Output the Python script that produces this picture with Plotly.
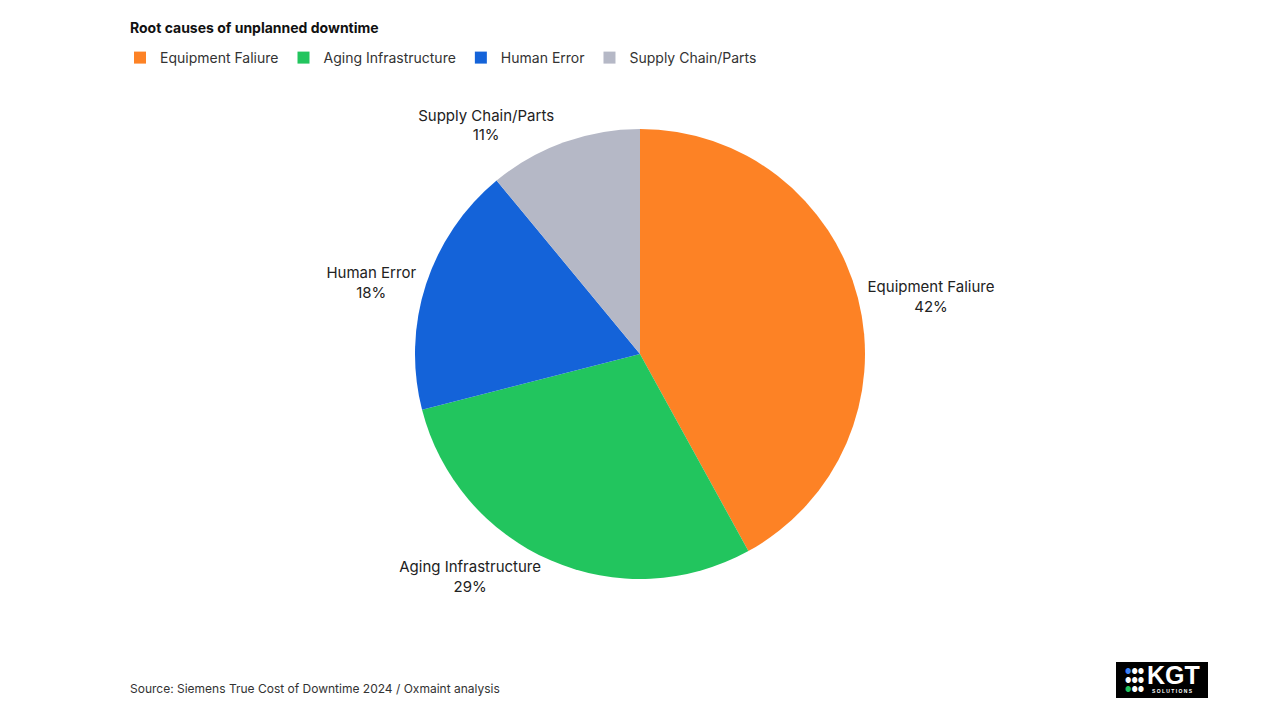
import plotly.graph_objects as go

# root causes, share of unplanned downtime (%)
CAUSES = ["Equipment Faliure", "Aging Infrastructure", "Human Error", "Supply Chain/Parts"]
SHARES = [42, 29, 18, 11]
COLORS = ["#fd8225", "#22c55e", "#1463d9", "#b5b8c6"]

INK = "#111111"
FONT = "Inter, Roboto, Arial, sans-serif"


def px(x, y):
    # pixel position (from top-left) -> paper fraction
    return x / 1280, 1 - y / 720


fig = go.Figure()
fig.add_pie(
    labels=CAUSES, values=SHARES, sort=False, direction="clockwise", rotation=0,
    marker=dict(colors=COLORS, line=dict(width=0)),
    texttemplate="%{label}<br>%{value}%", textposition="outside",
    textfont=dict(family=FONT, size=15, color="#222222"),
    domain=dict(x=[0.324, 0.676], y=[0.196, 0.821]),
    showlegend=True, hoverinfo="label+percent",
)

lx, ly = px(120, 58)
fig.update_layout(
    width=1280, height=720,
    paper_bgcolor="#ffffff", plot_bgcolor="#ffffff",
    margin=dict(l=0, r=0, t=0, b=0),
    font=dict(family=FONT, color=INK),
    legend=dict(orientation="h", x=lx, y=ly, xanchor="left", yanchor="middle",
                bgcolor="rgba(0,0,0,0)",
                font=dict(family=FONT, size=14, color="#333333"),
                itemsizing="constant", traceorder="normal"),
)

ann = []
x, y = px(128, 28)
ann.append(dict(text="<b>Root causes of unplanned downtime</b>", x=x, y=y,
                xanchor="left", yanchor="middle", font=dict(size=14, color=INK)))
x, y = px(128, 688)
ann.append(dict(text="Source: Siemens True Cost of Downtime 2024 / Oxmaint analysis", x=x, y=y,
                xanchor="left", yanchor="middle", font=dict(size=12, color="#333333")))
# KGT logo badge
x, y = px(1145, 675)
ann.append(dict(text="<b>KGT</b>", x=x, y=y, xanchor="left", yanchor="middle",
                font=dict(size=25, color="#ffffff", family="Arial")))
x, y = px(1150, 691)
ann.append(dict(text="<b>S O L U T I O N S</b>", x=x, y=y, xanchor="left", yanchor="middle",
                font=dict(size=5, color="#ffffff", family="Arial")))
x, y = px(1134, 680)
ann.append(dict(text="<span style='color:#3b82f6'>●</span>●●<br>●●●<br><span style='color:#22c55e'>●</span>●●",
                x=x, y=y, xanchor="center", yanchor="middle",
                font=dict(size=7, color="#ffffff")))
for a in ann:
    a.update(xref="paper", yref="paper", showarrow=False)
fig.update_layout(annotations=ann)

x0, y1 = px(1116, 662)
x1, y0 = px(1208, 698)
fig.add_shape(type="rect", xref="paper", yref="paper", x0=x0, x1=x1, y0=y0, y1=y1,
              fillcolor="#000000", line=dict(width=0), layer="below")

fig.write_html("out.html", config=dict(displayModeBar=False),
               post_script="document.body.style.margin='0';")
